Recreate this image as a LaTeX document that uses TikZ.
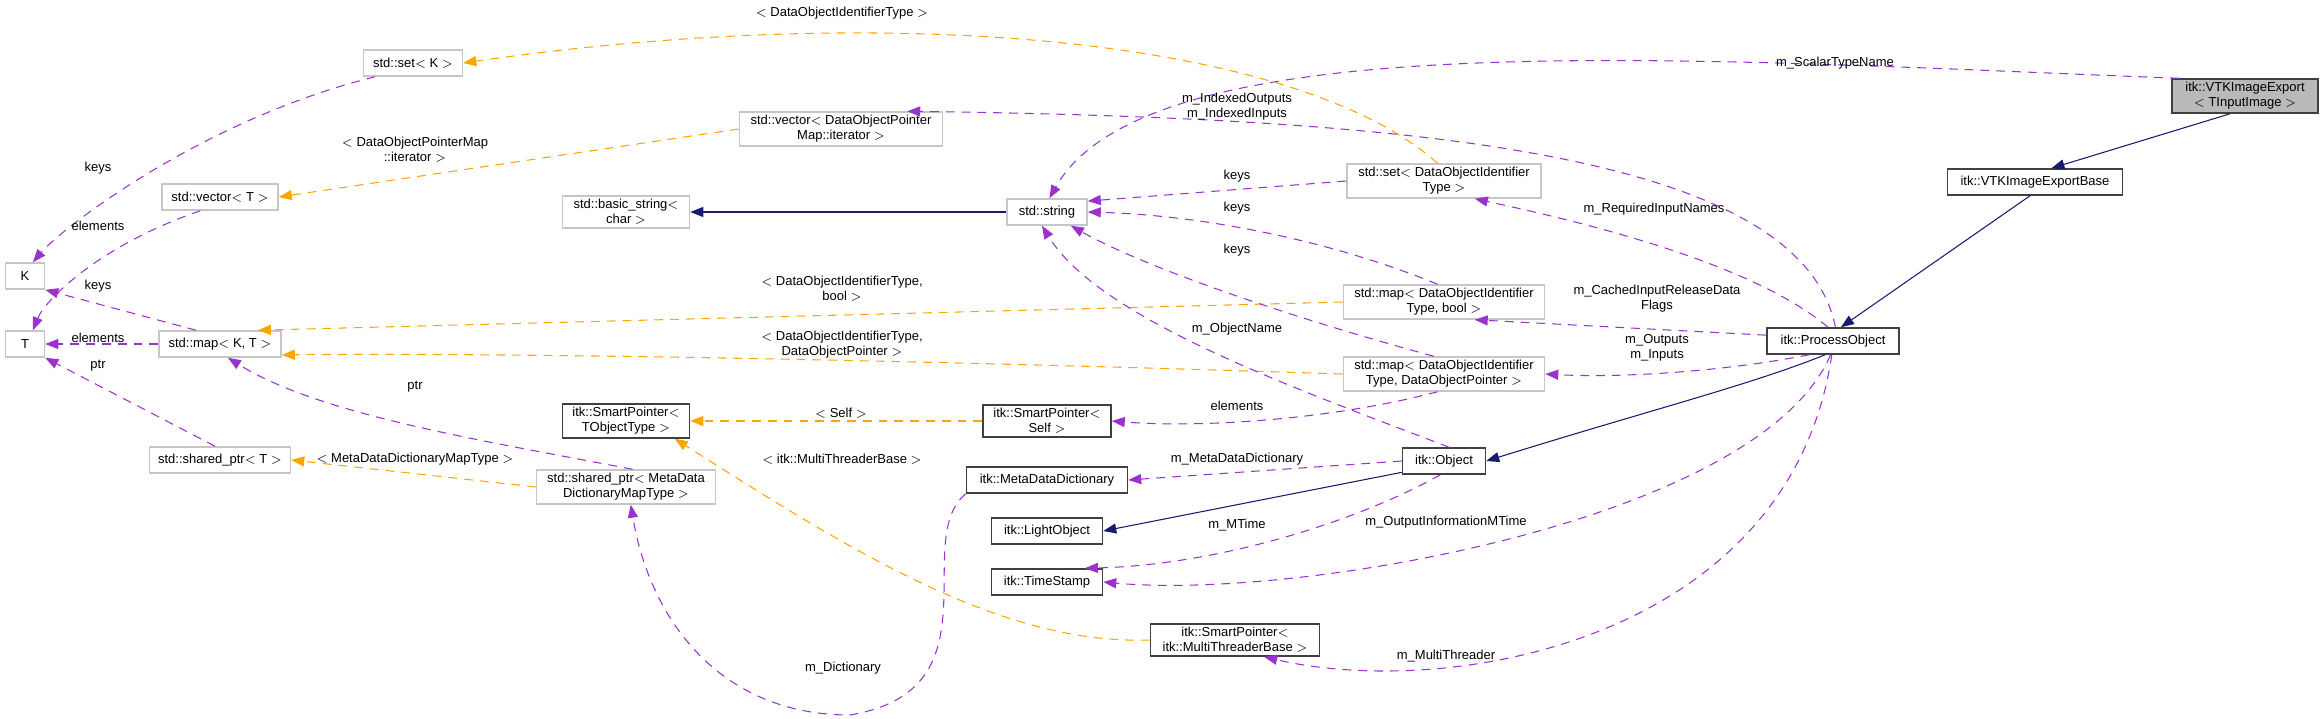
\documentclass[tikz,border=0pt]{standalone}
\usepackage{fontspec}
\setmainfont{Liberation Sans}
\usetikzlibrary{arrows.meta,positioning,calc}

\definecolor{collab}{HTML}{9A32CD}
\definecolor{tmpl}{HTML}{FFA500}
\definecolor{inher}{HTML}{191970}

\tikzset{
  cls/.style={draw=gray!45, line width=0.9pt, fill=white, align=center, inner sep=2pt,
    font=\fontsize{7.4}{8.4}\selectfont, minimum height=0.52cm},
  itk/.style={cls, draw=black!75},
  lbl/.style={align=center, font=\fontsize{7.4}{8.4}\selectfont, inner sep=1pt},
  tip/.style={-{Triangle[length=2.6mm,width=2mm]}},
  coll/.style={tip, collab, dashed, dash pattern=on 5pt off 4pt, line width=0.6pt},
  tarr/.style={tip, tmpl, dashed, dash pattern=on 5pt off 4pt, line width=0.6pt},
  inh/.style={tip, inher, line width=0.6pt}
}

\begin{document}
\begin{tikzpicture}[x=0.02cm,y=-0.02cm]
    \useasboundingbox (0,0) rectangle (2320,718);

    % left column
    \node[cls, minimum width=0.78cm] (K) at (25,276) {K};
    \node[cls, minimum width=0.78cm] (T) at (25,344) {T};
    \node[cls, minimum width=1.98cm] (setK) at (413,63) {std::set$<$ K $>$};
    \node[cls, minimum width=2.32cm] (vecT) at (220,197) {std::vector$<$ T $>$};
    \node[cls, minimum width=2.44cm] (mapKT) at (220,344) {std::map$<$ K, T $>$};
    \node[cls, minimum width=2.82cm] (shT) at (220,460) {std::shared\_ptr$<$ T $>$};

    % middle column
    \node[cls, minimum width=2.54cm] (basicstr) at (626,212) {std::basic\_string$<$\\char $>$};
    \node[itk, minimum width=2.54cm] (spTObj) at (626,421) {itk::SmartPointer$<$\\TObjectType $>$};
    \node[cls, minimum width=3.58cm] (shMDD) at (626,487) {std::shared\_ptr$<$ MetaData\\DictionaryMapType $>$};
    \node[cls, minimum width=4.06cm] (vecDOPM) at (841,129) {std::vector$<$ DataObjectPointer\\Map::iterator $>$};

    \node[cls, minimum width=1.6cm] (stdstr) at (1047,212) {std::string};
    \node[itk, minimum width=2.56cm] (spSelf) at (1047,421) {itk::SmartPointer$<$\\Self $>$};
    \node[itk, minimum width=3.22cm] (mdd) at (1047,480) {itk::MetaDataDictionary};
    \node[itk, minimum width=2.22cm] (light) at (1047,531) {itk::LightObject};
    \node[itk, minimum width=2.22cm] (tstamp) at (1047,582) {itk::TimeStamp};
    \node[itk, minimum width=3.38cm] (spMTB) at (1235,640) {itk::SmartPointer$<$\\itk::MultiThreaderBase $>$};

    % right part
    \node[cls, minimum width=3.88cm] (setDOIT) at (1444,181) {std::set$<$ DataObjectIdentifier\\Type $>$};
    \node[cls, minimum width=4.02cm] (mapBool) at (1444,302) {std::map$<$ DataObjectIdentifier\\Type, bool $>$};
    \node[cls, minimum width=4.02cm] (mapDOP) at (1444,374) {std::map$<$ DataObjectIdentifier\\Type, DataObjectPointer $>$};
    \node[itk, minimum width=1.66cm] (object) at (1444,461) {itk::Object};
    \node[itk, minimum width=2.64cm] (procobj) at (1833,341) {itk::ProcessObject};
    \node[itk, minimum width=3.5cm] (vtkbase) at (2035,182) {itk::VTKImageExportBase};
    \node[itk, fill=gray!55, minimum width=2.92cm] (vtkexp) at (2245,96) {itk::VTKImageExport\\$<$ TInputImage $>$};

    % inheritance
    \draw[inh] (vtkexp.230) -- (vtkbase.40);
    \draw[inh] (vtkbase.-110) -- (procobj.60);
    \draw[inh] (procobj.-120) .. controls (1750,385) and (1650,410) .. (object.east);
    \draw[inh] (object.-165) -- (light.east);
    \draw[inh] (stdstr.west) -- (basicstr.east);

    % template arguments
    \draw[tarr] (setDOIT.110) .. controls (1300,40) and (900,0) .. (setK.east);
    \draw[tarr] (vecDOPM.west) -- (vecT.east);
    \draw[tarr] (mapBool.west) -- (mapKT.20);
    \draw[tarr] (mapDOP.west) .. controls (1100,366) and (600,352) .. (mapKT.-10);
    \draw[tarr] (spSelf.west) -- (spTObj.east);
    \draw[tarr] (spMTB.west) .. controls (1000,645) and (850,550) .. (spTObj.-20);
    \draw[tarr] (shMDD.west) -- (shT.east);

    % members
    \draw[coll] (setK.200) .. controls (200,120) and (60,230) .. (K.60);
    \draw[coll] (vecT.215) .. controls (100,245) and (45,300) .. (T.60);
    \draw[coll] (mapKT.150) -- (K.south east);
    \draw[coll] (mapKT.west) -- (T.east);
    \draw[coll] (shT.110) -- (T.south east);
    \draw[coll] (shMDD.70) .. controls (480,440) and (320,415) .. (mapKT.-60);
    \draw[coll] (mdd.south west) .. controls (910,540) and (1000,690) .. (850,715)
        .. controls (720,715) and (650,620) .. (shMDD.-75);
    \draw[coll] (setDOIT.west) -- (stdstr.15);
    \draw[coll] (mapBool.110) .. controls (1330,240) and (1200,215) .. (stdstr.east);
    \draw[coll] (mapDOP.120) .. controls (1300,320) and (1150,270) .. (stdstr.-30);
    \draw[coll] (object.70) .. controls (1300,390) and (1100,320) .. (stdstr.-110);
    \draw[coll] (vtkexp.165) .. controls (1700,60) and (1150,20) .. (stdstr.80);
    \draw[coll] (procobj.80) .. controls (1800,150) and (1400,118) .. (vecDOPM.15);
    \draw[coll] (procobj.110) .. controls (1760,270) and (1620,230) .. (setDOIT.-30);
    \draw[coll] (procobj.175) -- (mapBool.-30);
    \draw[coll] (procobj.-150) .. controls (1720,372) and (1620,378) .. (mapDOP.east);
    \draw[coll] (mapDOP.-110) .. controls (1330,420) and (1200,428) .. (spSelf.east);
    \draw[coll] (object.west) -- (mdd.east);
    \draw[coll] (object.-105) .. controls (1360,520) and (1220,565) .. (tstamp.20);
    \draw[coll] (procobj.-100) .. controls (1760,520) and (1300,600) .. (tstamp.east);
    \draw[coll] (procobj.-95) .. controls (1790,640) and (1450,700) .. (spMTB.-30);

    % labels
    \node[lbl] (l1) at (842,13) {$<$ DataObjectIdentifierType $>$};
    \node[lbl] (l2) at (1835,63) {m\_ScalarTypeName};
    \node[lbl] (l3) at (1237,107) {m\_IndexedOutputs\\m\_IndexedInputs};
    \node[lbl] (l4) at (415,150) {$<$ DataObjectPointerMap\\::iterator $>$};
    \node[lbl] (l5) at (98,168) {keys};
    \node[lbl] (l6) at (98,226) {elements};
    \node[lbl] (l7) at (98,286) {keys};
    \node[lbl] (l8) at (98,338) {elements};
    \node[lbl] (l9) at (98,366) {ptr};
    \node[lbl] (l10) at (415,387) {ptr};
    \node[lbl] (l11) at (415,459) {$<$ MetaDataDictionaryMapType $>$};
    \node[lbl] (l12) at (1237,176) {keys};
    \node[lbl] (l13) at (1237,208) {keys};
    \node[lbl] (l14) at (1237,250) {keys};
    \node[lbl] (l15) at (1654,209) {m\_RequiredInputNames};
    \node[lbl] (l16) at (1657,299) {m\_CachedInputReleaseData\\Flags};
    \node[lbl] (l17) at (1657,348) {m\_Outputs\\m\_Inputs};
    \node[lbl] (l18) at (1237,329) {m\_ObjectName};
    \node[lbl] (l19) at (1237,406) {elements};
    \node[lbl] (l20) at (842,289) {$<$ DataObjectIdentifierType,\\bool $>$};
    \node[lbl] (l21) at (842,345) {$<$ DataObjectIdentifierType,\\DataObjectPointer $>$};
    \node[lbl] (l22) at (841,413) {$<$ Self $>$};
    \node[lbl] (l23) at (842,459) {$<$ itk::MultiThreaderBase $>$};
    \node[lbl] (l24) at (1237,459) {m\_MetaDataDictionary};
    \node[lbl] (l25) at (1237,525) {m\_MTime};
    \node[lbl] (l26) at (1446,522) {m\_OutputInformationMTime};
    \node[lbl] (l27) at (843,668) {m\_Dictionary};
    \node[lbl] (l28) at (1446,656) {m\_MultiThreader};
\end{tikzpicture}
\end{document}
